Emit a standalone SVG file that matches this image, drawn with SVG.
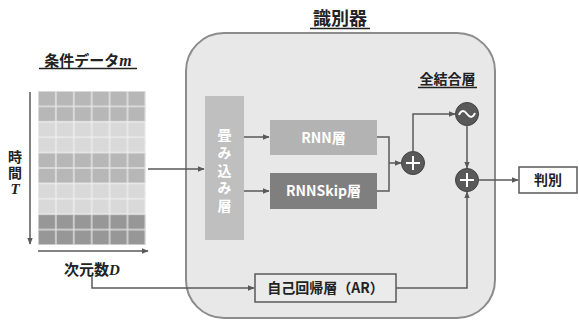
<svg xmlns="http://www.w3.org/2000/svg" width="579" height="320" viewBox="0 0 579 320">
<defs>
<style>
.t{font-family:"Noto Sans CJK JP","Noto Sans",sans-serif;font-weight:bold;}
.it{font-family:"Liberation Serif",serif;font-weight:bold;font-style:italic;}
.v{writing-mode:vertical-rl;text-orientation:upright;}
.ln{stroke:#595959;stroke-width:1.5;fill:none;}
.ul{stroke:#222;stroke-width:1.3;}
.cir{fill:#595959;stroke:#404040;stroke-width:1;}
.sym{stroke:#fff;stroke-width:2;fill:none;}
.c1{fill:#b7b7b7;}
.c2{fill:#d9d9d9;}
.c3{fill:#979797;}
</style>
<marker id="ah" viewBox="0 0 10 10" refX="9" refY="5" markerWidth="4.5" markerHeight="4.5" orient="auto">
<path d="M0,1 L10,5 L0,9 z" fill="#595959"/>
</marker>
<pattern id="grid" x="38" y="91" width="17.9" height="15.4" patternUnits="userSpaceOnUse">
<rect x="0" y="0" width="17.9" height="15.4" fill="none" stroke="#f2f2f2" stroke-width="1.4" opacity="0.8"/>
</pattern>
</defs>
<rect width="579" height="320" fill="#fff"/>

<!-- main discriminator box -->
<g id="discriminator">
<rect x="186" y="33" width="309" height="285" rx="38" fill="#e8e8e8" stroke="#8c8c8c" stroke-width="2"/>
<text class="t" x="340" y="25" font-size="18" text-anchor="middle" fill="#222">識別器</text>
<line class="ul" x1="310" y1="28.5" x2="370" y2="28.5"/>
</g>

<!-- condition data -->
<g id="data">
<text x="88" y="66" font-size="15" text-anchor="middle" fill="#222"><tspan class="t">条件データ</tspan><tspan class="it" font-size="16">m</tspan></text>
<line class="ul" x1="39" y1="68.5" x2="137" y2="68.5"/>
<rect class="c1" x="38" y="91" width="107.4" height="30.8"/>
<rect class="c2" x="38" y="121.8" width="107.4" height="30.8"/>
<rect class="c1" x="38" y="152.6" width="107.4" height="30.8"/>
<rect class="c2" x="38" y="183.4" width="107.4" height="30.8"/>
<rect class="c3" x="38" y="214.2" width="107.4" height="30.8"/>
<rect x="38" y="91" width="107.4" height="154" fill="url(#grid)"/>
<line class="ln" x1="30" y1="92" x2="30" y2="244" marker-end="url(#ah)"/>
<line class="ln" x1="38" y1="251" x2="148" y2="251" marker-end="url(#ah)"/>
<text class="t v" x="15" y="150" font-size="14" letter-spacing="2" fill="#222">時間</text>
<text class="it" x="15" y="194" font-size="15" text-anchor="middle" fill="#222">T</text>
<text x="92" y="275" font-size="15" text-anchor="middle" fill="#222"><tspan class="t">次元数</tspan><tspan class="it">D</tspan></text>
</g>

<!-- conv layer -->
<g id="conv">
<rect x="205" y="96" width="39" height="144" fill="#bfbfbf"/>
<text class="t v" x="224.5" y="128" font-size="14" letter-spacing="3.6" fill="#fff">畳み込み層</text>
</g>

<g id="rnn">
<rect x="270" y="120" width="107" height="35" fill="#b3b3b3"/>
<text class="t" x="323.5" y="142.5" font-size="14" text-anchor="middle" fill="#fff">RNN層</text>
</g>

<g id="rnnskip">
<rect x="270" y="173" width="107" height="36" fill="#7f7f7f"/>
<text class="t" x="323.5" y="196" font-size="14" text-anchor="middle" fill="#fff">RNNSkip層</text>
</g>

<g id="ar">
<rect x="255" y="274" width="141" height="28" fill="#ebebeb" stroke="#595959" stroke-width="1.5"/>
<text class="t" x="325.5" y="293" font-size="14" text-anchor="middle" fill="#222">自己回帰層（AR）</text>
</g>

<g id="fc-label">
<text class="t" x="447.5" y="84" font-size="14" text-anchor="middle" fill="#222">全結合層</text>
<line class="ul" x1="418" y1="87.5" x2="477" y2="87.5"/>
</g>

<g id="plus1">
<circle class="cir" cx="413" cy="163" r="11.5"/>
<path class="sym" d="M406,163 H420 M413,156 V170"/>
</g>

<g id="tilde">
<circle class="cir" cx="467" cy="114" r="11.5"/>
<path class="sym" d="M459,115 C461,110 464,110 467,114 C470,118 473,118 475,113"/>
</g>

<g id="plus2">
<circle class="cir" cx="467" cy="180" r="11.5"/>
<path class="sym" d="M460,180 H474 M467,173 V187"/>
</g>

<g id="output">
<rect x="519" y="167" width="58" height="26" fill="#fff" stroke="#595959" stroke-width="1.5"/>
<text class="t" x="548" y="185" font-size="14" text-anchor="middle" fill="#222">判別</text>
</g>

<!-- connectors -->
<g id="connectors">
<line class="ln" x1="148" y1="169" x2="204" y2="169" marker-end="url(#ah)"/>
<polyline class="ln" points="92,277 92,288 254,288" marker-end="url(#ah)"/>
<line class="ln" x1="244" y1="137" x2="269" y2="137" marker-end="url(#ah)"/>
<line class="ln" x1="244" y1="191" x2="269" y2="191" marker-end="url(#ah)"/>
<polyline class="ln" points="377,137 389,137 389,191 377,191"/>
<line class="ln" x1="389" y1="163" x2="401" y2="163" marker-end="url(#ah)"/>
<polyline class="ln" points="413,151.5 413,114 455,114" marker-end="url(#ah)"/>
<line class="ln" x1="467" y1="125.5" x2="467" y2="168" marker-end="url(#ah)"/>
<line class="ln" x1="478.5" y1="180" x2="518" y2="180" marker-end="url(#ah)"/>
<polyline class="ln" points="396,288 467,288 467,192" marker-end="url(#ah)"/>
</g>
</svg>
